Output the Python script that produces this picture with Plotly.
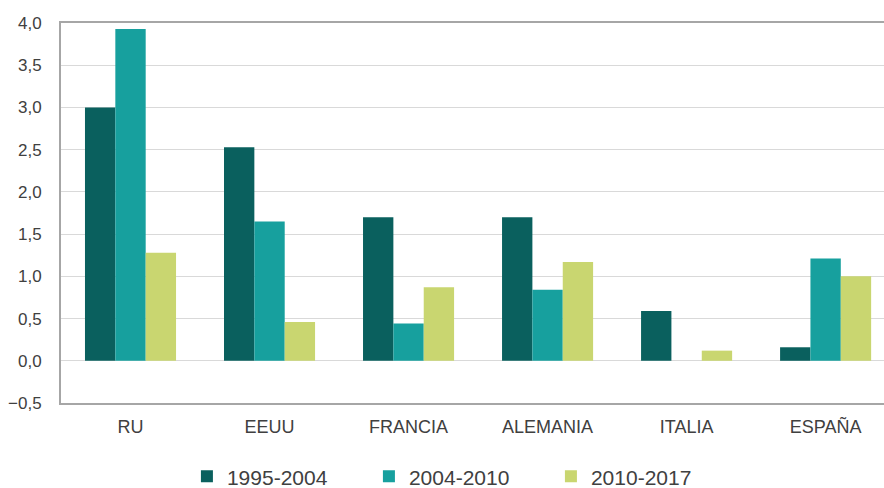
import plotly.graph_objects as go

paises = ["RU", "EEUU", "FRANCIA", "ALEMANIA", "ITALIA", "ESPAÑA"]
periodos = ["1995-2004", "2004-2010", "2010-2017"]
v_1995_2004 = [3.00, 2.53, 1.70, 1.70, 0.59, 0.16]
v_2004_2010 = [3.93, 1.65, 0.44, 0.84, 0.00, 1.21]
v_2010_2017 = [1.28, 0.46, 0.87, 1.17, 0.12, 1.00]
colores = ["#0a605e", "#17a09e", "#c9d670"]

fig = go.Figure()
for nombre, valores, color in zip(periodos, [v_1995_2004, v_2004_2010, v_2010_2017], colores):
    fig.add_trace(go.Bar(x=paises, y=valores, name=nombre, marker_color=color,
                         marker_line_width=0))

font_fam = "Liberation Sans, Arial, sans-serif"
fig.update_layout(
    width=884, height=488,
    margin=dict(l=61, r=0, t=23, b=85, autoexpand=False),
    paper_bgcolor="white", plot_bgcolor="white",
    barmode="group", bargap=0.345, bargroupgap=0,
    separators=", ",
    font=dict(family=font_fam, size=17, color="#404040"),
    showlegend=True,
    legend=dict(orientation="h", x=0.153, xanchor="left", y=-0.14, yanchor="top",
                font=dict(size=21, color="#404040"),
                entrywidth=137, entrywidthmode="pixels",
                itemwidth=30, traceorder="normal"),
)
fig.update_xaxes(
    range=[-0.5, 5.42], showgrid=False,
    showline=True, linecolor="#a6a6a6", linewidth=2, mirror=True,
    ticks="", ticklabelstandoff=6,
    tickfont=dict(size=18, color="#404040"),
)
fig.update_yaxes(
    range=[-0.5, 4.0], dtick=0.5, tick0=0, tickformat=".1f",
    showgrid=True, gridcolor="#d9d9d9", gridwidth=1,
    zeroline=True, zerolinecolor="#d9d9d9", zerolinewidth=1,
    showline=True, linecolor="#a6a6a6", linewidth=2,
    ticks="", ticklabelstandoff=14,
    tickfont=dict(size=17, color="#404040"),
)

fig.write_html("out.html")
